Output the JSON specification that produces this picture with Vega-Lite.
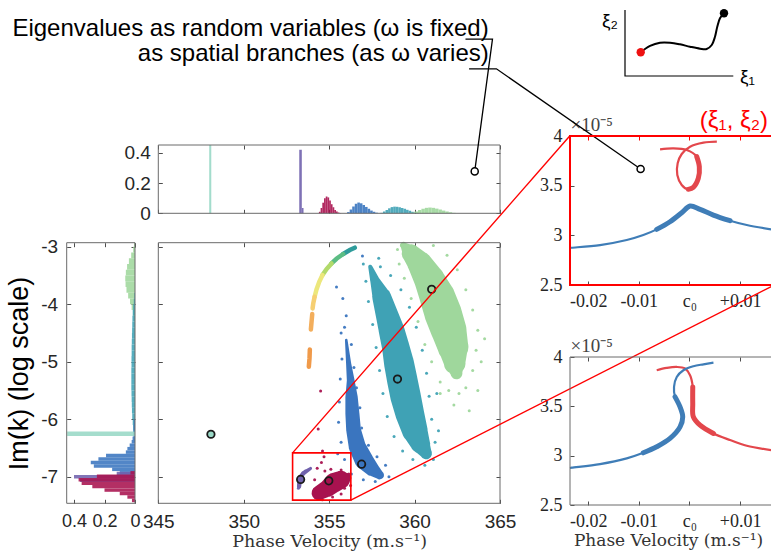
{
"$schema": "https://vega.github.io/schema/vega-lite/v6.json",
"background": "white",
"width": 771,
"height": 554,
"autosize": {"type": "none"},
"padding": 0,
"config": {
  "view": {"stroke": null},
  "font": "Liberation Sans",
  "axis": {"domain": false, "grid": false, "ticks": true, "tickSize": -4, "labelPadding": 8, "labelFlush": false, "labelOverlap": false, "tickColor": "#4d4d4d", "labelColor": "#262626", "labelFont": "Liberation Sans", "labelFontSize": 19, "titleFont": "Liberation Sans", "titleFontWeight": "normal", "titleColor": "#000000"}
},
"resolve": {"scale": {"x": "independent", "y": "independent"}, "axis": {"x": "independent", "y": "independent"}},
"datasets": {
  "tophist": [
    {"c":"m","x":347.98,"x2":348.1,"y":0.4515},
    {"c":"p","x":353.25,"x2":353.4,"y":0.42},
    {"c":"p","x":353.4,"x2":353.5,"y":0.035},
    {"c":"r","x":354.4,"x2":354.5,"y":0.01},
    {"c":"r","x":354.5,"x2":354.6,"y":0.035},
    {"c":"r","x":354.6,"x2":354.7,"y":0.07},
    {"c":"r","x":354.7,"x2":354.8,"y":0.1},
    {"c":"r","x":354.8,"x2":354.9,"y":0.111},
    {"c":"r","x":354.9,"x2":355.0,"y":0.105},
    {"c":"r","x":355.0,"x2":355.1,"y":0.085},
    {"c":"r","x":355.1,"x2":355.2,"y":0.06},
    {"c":"r","x":355.2,"x2":355.3,"y":0.04},
    {"c":"r","x":355.3,"x2":355.4,"y":0.022},
    {"c":"r","x":355.4,"x2":355.5,"y":0.012},
    {"c":"r","x":355.5,"x2":355.6,"y":0.005},
    {"c":"r","x":355.6,"x2":355.7,"y":0.002},
    {"c":"b","x":356.05,"x2":356.2,"y":0.008},
    {"c":"b","x":356.2,"x2":356.35,"y":0.025},
    {"c":"b","x":356.35,"x2":356.5,"y":0.045},
    {"c":"b","x":356.5,"x2":356.65,"y":0.063},
    {"c":"b","x":356.65,"x2":356.8,"y":0.071},
    {"c":"b","x":356.8,"x2":356.95,"y":0.066},
    {"c":"b","x":356.95,"x2":357.1,"y":0.055},
    {"c":"b","x":357.1,"x2":357.25,"y":0.042},
    {"c":"b","x":357.25,"x2":357.4,"y":0.03},
    {"c":"b","x":357.4,"x2":357.55,"y":0.018},
    {"c":"b","x":357.55,"x2":357.7,"y":0.01},
    {"c":"b","x":357.7,"x2":357.85,"y":0.004},
    {"c":"t","x":358.0,"x2":358.15,"y":0.003},
    {"c":"t","x":358.15,"x2":358.3,"y":0.012},
    {"c":"t","x":358.3,"x2":358.45,"y":0.022},
    {"c":"t","x":358.45,"x2":358.6,"y":0.033},
    {"c":"t","x":358.6,"x2":358.75,"y":0.041},
    {"c":"t","x":358.75,"x2":358.9,"y":0.044},
    {"c":"t","x":358.9,"x2":359.05,"y":0.043},
    {"c":"t","x":359.05,"x2":359.2,"y":0.04},
    {"c":"t","x":359.2,"x2":359.35,"y":0.035},
    {"c":"t","x":359.35,"x2":359.5,"y":0.03},
    {"c":"t","x":359.5,"x2":359.65,"y":0.023},
    {"c":"t","x":359.65,"x2":359.8,"y":0.017},
    {"c":"t","x":359.8,"x2":359.95,"y":0.01},
    {"c":"t","x":359.95,"x2":360.1,"y":0.005},
    {"c":"t","x":360.1,"x2":360.25,"y":0.002},
    {"c":"g","x":359.8,"x2":360.0,"y":0.004},
    {"c":"g","x":360.0,"x2":360.2,"y":0.012},
    {"c":"g","x":360.2,"x2":360.4,"y":0.022},
    {"c":"g","x":360.4,"x2":360.6,"y":0.03},
    {"c":"g","x":360.6,"x2":360.8,"y":0.036},
    {"c":"g","x":360.8,"x2":361.0,"y":0.038},
    {"c":"g","x":361.0,"x2":361.2,"y":0.036},
    {"c":"g","x":361.2,"x2":361.4,"y":0.031},
    {"c":"g","x":361.4,"x2":361.6,"y":0.025},
    {"c":"g","x":361.6,"x2":361.8,"y":0.018},
    {"c":"g","x":361.8,"x2":362.0,"y":0.012},
    {"c":"g","x":362.0,"x2":362.2,"y":0.007},
    {"c":"g","x":362.2,"x2":362.4,"y":0.003}
  ],
  "lefthist": [
    {"c":"g","y":-3.0,"y2":-2.93,"x":0.006},
    {"c":"g","y":-3.1,"y2":-3.0,"x":0.012},
    {"c":"g","y":-3.2,"y2":-3.1,"x":0.025},
    {"c":"g","y":-3.3,"y2":-3.2,"x":0.04},
    {"c":"g","y":-3.4,"y2":-3.3,"x":0.052},
    {"c":"g","y":-3.5,"y2":-3.4,"x":0.06},
    {"c":"g","y":-3.6,"y2":-3.5,"x":0.064},
    {"c":"g","y":-3.7,"y2":-3.6,"x":0.062},
    {"c":"g","y":-3.8,"y2":-3.7,"x":0.056},
    {"c":"g","y":-3.9,"y2":-3.8,"x":0.045},
    {"c":"g","y":-4.0,"y2":-3.9,"x":0.033},
    {"c":"g","y":-4.1,"y2":-4.0,"x":0.022},
    {"c":"g","y":-4.2,"y2":-4.1,"x":0.012},
    {"c":"g","y":-4.3,"y2":-4.2,"x":0.005},
    {"c":"t","y":-3.9,"y2":-3.8,"x":0.004},
    {"c":"t","y":-4.0,"y2":-3.9,"x":0.008},
    {"c":"t","y":-4.1,"y2":-4.0,"x":0.012},
    {"c":"t","y":-4.2,"y2":-4.1,"x":0.015},
    {"c":"t","y":-4.3,"y2":-4.2,"x":0.017},
    {"c":"t","y":-4.4,"y2":-4.3,"x":0.018},
    {"c":"t","y":-4.5,"y2":-4.4,"x":0.019},
    {"c":"t","y":-4.6,"y2":-4.5,"x":0.02},
    {"c":"t","y":-4.7,"y2":-4.6,"x":0.021},
    {"c":"t","y":-4.8,"y2":-4.7,"x":0.022},
    {"c":"t","y":-4.9,"y2":-4.8,"x":0.022},
    {"c":"t","y":-5.0,"y2":-4.9,"x":0.023},
    {"c":"t","y":-5.1,"y2":-5.0,"x":0.023},
    {"c":"t","y":-5.2,"y2":-5.1,"x":0.024},
    {"c":"t","y":-5.3,"y2":-5.2,"x":0.024},
    {"c":"t","y":-5.4,"y2":-5.3,"x":0.024},
    {"c":"t","y":-5.5,"y2":-5.4,"x":0.024},
    {"c":"t","y":-5.6,"y2":-5.5,"x":0.023},
    {"c":"t","y":-5.7,"y2":-5.6,"x":0.022},
    {"c":"t","y":-5.8,"y2":-5.7,"x":0.021},
    {"c":"t","y":-5.9,"y2":-5.8,"x":0.02},
    {"c":"t","y":-6.0,"y2":-5.9,"x":0.018},
    {"c":"t","y":-6.1,"y2":-6.0,"x":0.015},
    {"c":"t","y":-6.2,"y2":-6.1,"x":0.012},
    {"c":"t","y":-6.3,"y2":-6.2,"x":0.008},
    {"c":"t","y":-6.4,"y2":-6.3,"x":0.004},
    {"c":"b","y":-6.1,"y2":-6.0,"x":0.008},
    {"c":"b","y":-6.2,"y2":-6.1,"x":0.01},
    {"c":"b","y":-6.3,"y2":-6.2,"x":0.012},
    {"c":"b","y":-6.36,"y2":-6.3,"x":0.016},
    {"c":"b","y":-6.42,"y2":-6.36,"x":0.022},
    {"c":"b","y":-6.48,"y2":-6.42,"x":0.035},
    {"c":"b","y":-6.54,"y2":-6.48,"x":0.05},
    {"c":"b","y":-6.6,"y2":-6.54,"x":0.06},
    {"c":"b","y":-6.66,"y2":-6.6,"x":0.19},
    {"c":"b","y":-6.72,"y2":-6.66,"x":0.24},
    {"c":"b","y":-6.78,"y2":-6.72,"x":0.29},
    {"c":"b","y":-6.84,"y2":-6.78,"x":0.27},
    {"c":"b","y":-6.9,"y2":-6.84,"x":0.15},
    {"c":"b","y":-6.96,"y2":-6.9,"x":0.1},
    {"c":"m","y":-6.29,"y2":-6.21,"x":0.445},
    {"c":"p","y":-6.97,"y2":-6.91,"x":0.12},
    {"c":"p","y":-7.03,"y2":-6.97,"x":0.4},
    {"c":"p","y":-7.09,"y2":-7.03,"x":0.36},
    {"c":"r","y":-6.96,"y2":-6.9,"x":0.03},
    {"c":"r","y":-7.02,"y2":-6.96,"x":0.25},
    {"c":"r","y":-7.08,"y2":-7.02,"x":0.37},
    {"c":"r","y":-7.14,"y2":-7.08,"x":0.35},
    {"c":"r","y":-7.2,"y2":-7.14,"x":0.28},
    {"c":"r","y":-7.26,"y2":-7.2,"x":0.2},
    {"c":"r","y":-7.32,"y2":-7.26,"x":0.1},
    {"c":"r","y":-7.38,"y2":-7.32,"x":0.05},
    {"c":"r","y":-7.44,"y2":-7.38,"x":0.02}
  ],
  "cores": [
    {"c":"g","i":1,"x":359.35,"y":-2.975,"w":0.4},
    {"c":"g","i":2,"x":359.8,"y":-3.12,"w":1.1},
    {"c":"g","i":3,"x":360.3,"y":-3.29,"w":1.45},
    {"c":"g","i":4,"x":360.88,"y":-3.58,"w":1.8},
    {"c":"g","i":5,"x":361.33,"y":-3.87,"w":2.08},
    {"c":"g","i":6,"x":361.67,"y":-4.16,"w":2.18},
    {"c":"g","i":7,"x":362.0,"y":-4.45,"w":2.08},
    {"c":"g","i":8,"x":362.25,"y":-4.74,"w":1.8},
    {"c":"g","i":9,"x":362.35,"y":-5.03,"w":1.26},
    {"c":"g","i":10,"x":362.45,"y":-5.2,"w":0.7},
    {"c":"t","i":1,"x":357.41,"y":-3.35,"w":0.25},
    {"c":"t","i":2,"x":357.67,"y":-3.58,"w":0.55},
    {"c":"t","i":3,"x":358.07,"y":-3.87,"w":1.1},
    {"c":"t","i":4,"x":358.36,"y":-4.16,"w":1.3},
    {"c":"t","i":5,"x":358.65,"y":-4.45,"w":1.5},
    {"c":"t","i":6,"x":358.89,"y":-4.74,"w":1.6},
    {"c":"t","i":7,"x":359.09,"y":-5.03,"w":1.75},
    {"c":"t","i":8,"x":359.28,"y":-5.32,"w":1.78},
    {"c":"t","i":9,"x":359.48,"y":-5.61,"w":1.78},
    {"c":"t","i":10,"x":359.72,"y":-5.9,"w":1.68},
    {"c":"t","i":11,"x":360.01,"y":-6.19,"w":1.5},
    {"c":"t","i":12,"x":360.33,"y":-6.42,"w":1.16},
    {"c":"t","i":13,"x":360.67,"y":-6.59,"w":0.7},
    {"c":"b","i":1,"x":356.0,"y":-4.62,"w":0.15},
    {"c":"b","i":2,"x":356.14,"y":-5.03,"w":0.3},
    {"c":"b","i":3,"x":356.26,"y":-5.32,"w":0.45},
    {"c":"b","i":4,"x":356.31,"y":-5.61,"w":0.72},
    {"c":"b","i":5,"x":356.36,"y":-5.9,"w":0.82},
    {"c":"b","i":6,"x":356.43,"y":-6.19,"w":0.86},
    {"c":"b","i":7,"x":356.65,"y":-6.48,"w":1.0},
    {"c":"b","i":8,"x":357.04,"y":-6.71,"w":1.1},
    {"c":"b","i":9,"x":357.5,"y":-6.86,"w":0.85},
    {"c":"b","i":10,"x":357.96,"y":-6.97,"w":0.5},
    {"c":"r","i":1,"x":354.4,"y":-7.28,"w":0.85},
    {"c":"r","i":2,"x":354.9,"y":-7.2,"w":1.0},
    {"c":"r","i":3,"x":355.3,"y":-7.1,"w":1.15},
    {"c":"r","i":4,"x":355.7,"y":-7.05,"w":1.05},
    {"c":"r","i":5,"x":356.0,"y":-7.02,"w":0.6},
    {"c":"p","i":1,"x":353.24,"y":-7.17,"w":0.25},
    {"c":"p","i":2,"x":353.28,"y":-7.03,"w":0.28},
    {"c":"p","i":3,"x":353.48,"y":-6.94,"w":0.25},
    {"c":"p","i":4,"x":353.91,"y":-6.854,"w":0.18}
  ],
  "arc": [
    {"c":"a1","i":1,"x":356.5,"y":-3.017},{"c":"a1","i":2,"x":356.21,"y":-3.058},{"c":"a1","i":3,"x":355.82,"y":-3.127},
    {"c":"a2","i":1,"x":355.82,"y":-3.127},{"c":"a2","i":2,"x":355.43,"y":-3.209},{"c":"a2","i":3,"x":355.14,"y":-3.29},
    {"c":"a3","i":1,"x":355.14,"y":-3.29},{"c":"a3","i":2,"x":354.85,"y":-3.388},{"c":"a3","i":3,"x":354.61,"y":-3.493},
    {"c":"a4","i":1,"x":354.61,"y":-3.493},{"c":"a4","i":2,"x":354.42,"y":-3.609},{"c":"a4","i":3,"x":354.26,"y":-3.742},{"c":"a4","i":4,"x":354.15,"y":-3.869},
    {"c":"a5","i":1,"x":354.15,"y":-3.869},{"c":"a5","i":2,"x":354.07,"y":-3.985},{"c":"a5","i":3,"x":354.03,"y":-4.072},
    {"c":"a6","i":1,"x":354.01,"y":-4.171},{"c":"a6","i":2,"x":353.97,"y":-4.304},{"c":"a6","i":3,"x":353.93,"y":-4.438},
    {"c":"a7","i":1,"x":353.87,"y":-4.785},{"c":"a7","i":2,"x":353.85,"y":-4.942},{"c":"a7","i":3,"x":353.81,"y":-5.087}
  ],
  "dots": [
    {"c":"g","x":359.0,"y":-3.05},{"c":"g","x":359.1,"y":-3.3},{"c":"g","x":359.4,"y":-3.55},{"c":"g","x":359.8,"y":-3.9},{"c":"g","x":360.2,"y":-4.3},{"c":"g","x":360.6,"y":-4.7},{"c":"g","x":361.0,"y":-5.0},{"c":"g","x":361.5,"y":-5.35},{"c":"g","x":362.0,"y":-5.5},{"c":"g","x":362.6,"y":-5.55},{"c":"g","x":363.0,"y":-5.45},{"c":"g","x":363.4,"y":-5.15},{"c":"g","x":363.6,"y":-4.8},{"c":"g","x":363.7,"y":-4.45},{"c":"g","x":363.4,"y":-4.1},{"c":"g","x":363.0,"y":-3.75},{"c":"g","x":362.5,"y":-3.4},{"c":"g","x":361.9,"y":-3.15},{"c":"g","x":361.1,"y":-2.98},{"c":"g","x":363.9,"y":-5.0},{"c":"g","x":363.2,"y":-5.85},{"c":"g","x":364.1,"y":-4.6},{"c":"g","x":362.3,"y":-5.75},{"c":"g","x":363.7,"y":-5.5},{"c":"g","x":360.1,"y":-3.05},{"c":"g","x":361.5,"y":-5.55},
    {"c":"t","x":357.0,"y":-3.3},{"c":"t","x":357.15,"y":-3.6},{"c":"t","x":357.3,"y":-3.95},{"c":"t","x":357.55,"y":-4.35},{"c":"t","x":357.75,"y":-4.75},{"c":"t","x":357.95,"y":-5.15},{"c":"t","x":358.15,"y":-5.55},{"c":"t","x":358.4,"y":-5.95},{"c":"t","x":358.8,"y":-6.3},{"c":"t","x":359.3,"y":-6.55},{"c":"t","x":359.9,"y":-6.7},{"c":"t","x":360.6,"y":-6.8},{"c":"t","x":361.1,"y":-6.7},{"c":"t","x":361.2,"y":-6.4},{"c":"t","x":361.0,"y":-6.0},{"c":"t","x":360.85,"y":-5.6},{"c":"t","x":360.7,"y":-5.2},{"c":"t","x":360.45,"y":-4.8},{"c":"t","x":360.1,"y":-4.4},{"c":"t","x":359.7,"y":-4.05},{"c":"t","x":359.2,"y":-3.75},{"c":"t","x":358.6,"y":-3.5},{"c":"t","x":358.0,"y":-3.35},{"c":"t","x":361.4,"y":-6.2},{"c":"t","x":361.3,"y":-5.55},{"c":"t","x":357.9,"y":-3.2},
    {"c":"b","x":355.43,"y":-3.7},{"c":"b","x":356.95,"y":-3.16},{"c":"b","x":355.7,"y":-4.5},{"c":"b","x":355.9,"y":-4.4},{"c":"b","x":356.3,"y":-4.7},{"c":"b","x":355.75,"y":-4.95},{"c":"b","x":356.45,"y":-5.1},{"c":"b","x":355.65,"y":-5.3},{"c":"b","x":356.6,"y":-5.45},{"c":"b","x":355.6,"y":-5.7},{"c":"b","x":356.8,"y":-5.8},{"c":"b","x":355.55,"y":-6.05},{"c":"b","x":356.9,"y":-6.15},{"c":"b","x":355.7,"y":-6.4},{"c":"b","x":357.3,"y":-6.45},{"c":"b","x":355.9,"y":-6.7},{"c":"b","x":357.8,"y":-6.65},{"c":"b","x":356.3,"y":-6.95},{"c":"b","x":357.0,"y":-7.05},{"c":"b","x":358.3,"y":-6.8},{"c":"b","x":358.5,"y":-7.0},{"c":"b","x":357.7,"y":-7.08},{"c":"b","x":355.5,"y":-6.6},{"c":"b","x":356.0,"y":-4.2},{"c":"b","x":355.8,"y":-3.9},
    {"c":"r","x":354.5,"y":-5.51},{"c":"r","x":354.36,"y":-6.17},{"c":"r","x":354.61,"y":-6.55},{"c":"r","x":354.7,"y":-6.65},{"c":"r","x":354.55,"y":-6.75},{"c":"r","x":354.3,"y":-6.85},{"c":"r","x":354.75,"y":-6.9},{"c":"r","x":355.1,"y":-6.87},{"c":"r","x":355.7,"y":-6.88},{"c":"r","x":356.15,"y":-6.95},{"c":"r","x":356.25,"y":-7.15},{"c":"r","x":355.7,"y":-7.3},{"c":"r","x":355.2,"y":-7.35},{"c":"r","x":354.6,"y":-7.4},{"c":"r","x":354.2,"y":-7.25},{"c":"r","x":354.15,"y":-7.05},{"c":"r","x":355.9,"y":-7.2},
    {"c":"p","x":353.6,"y":-6.9},{"c":"p","x":353.2,"y":-7.2}
  ],
  "markers": [
    {"c":"g","x":361.0,"y":-3.74},{"c":"t","x":359.0,"y":-5.3},{"c":"b","x":356.9,"y":-6.78},{"c":"r","x":354.98,"y":-7.07},{"c":"p","x":353.33,"y":-7.045},{"c":"m","x":348.08,"y":-6.26}
  ],
  "zoomlines": [
    {"ln":1,"i":1,"x":352.86,"y":-6.583},{"ln":1,"i":2,"x":369.08,"y":-1.075},
    {"ln":2,"i":1,"x":356.27,"y":-7.405},{"ln":2,"i":2,"x":381.06,"y":-3.666}
  ],
  "leaders": [
    {"ln":1,"i":1,"x":362.98,"y":1.151},{"ln":1,"i":2,"x":364.56,"y":1.151},{"ln":1,"i":3,"x":363.52,"y":0.277},
    {"ln":2,"i":1,"x":363.19,"y":0.955},{"ln":2,"i":2,"x":364.79,"y":0.955},{"ln":2,"i":3,"x":373.23,"y":0.293}
  ],
  "rtThin": [
    {"c":"L","i":0,"x":-0.0236,"y":2.873},{"c":"L","i":1,"x":-0.02327,"y":2.875},{"c":"L","i":2,"x":-0.01767,"y":2.902},{"c":"L","i":3,"x":-0.01239,"y":2.953},{"c":"L","i":4,"x":-0.00911,"y":3.003},{"c":"L","i":5,"x":-0.00647,"y":3.06},{"c":"L","i":6,"x":-0.00384,"y":3.137},{"c":"L","i":7,"x":-0.00153,"y":3.228},{"c":"L","i":8,"x":0.00012,"y":3.295},{"c":"L","i":9,"x":0.00209,"y":3.262},{"c":"L","i":10,"x":0.00472,"y":3.204},{"c":"L","i":11,"x":0.00802,"y":3.147},{"c":"L","i":12,"x":0.01132,"y":3.104},{"c":"L","i":13,"x":0.01612,"y":3.06},
    {"c":"R","i":1,"x":-0.00581,"y":3.866},{"c":"R","i":2,"x":-0.00318,"y":3.876},{"c":"R","i":3,"x":-0.00054,"y":3.859},{"c":"R","i":4,"x":0.00144,"y":3.792},{"c":"R","i":5,"x":0.00195,"y":3.691},{"c":"R","i":6,"x":0.00175,"y":3.574},{"c":"R","i":7,"x":0.00076,"y":3.483},{"c":"R","i":8,"x":-0.00023,"y":3.463},{"c":"R","i":9,"x":-0.00153,"y":3.507},{"c":"R","i":10,"x":-0.0024,"y":3.607},{"c":"R","i":11,"x":-0.00233,"y":3.725},{"c":"R","i":12,"x":-0.00153,"y":3.819},{"c":"R","i":13,"x":0.00012,"y":3.892},{"c":"R","i":14,"x":0.00277,"y":3.933},{"c":"R","i":15,"x":0.00541,"y":3.943}
  ],
  "rtThick": [
    {"c":"L","i":5,"x":-0.00647,"y":3.06},{"c":"L","i":6,"x":-0.00384,"y":3.137},{"c":"L","i":7,"x":-0.00153,"y":3.228},{"c":"L","i":8,"x":0.00012,"y":3.295},{"c":"L","i":9,"x":0.00209,"y":3.262},{"c":"L","i":10,"x":0.00472,"y":3.204},{"c":"L","i":11,"x":0.00802,"y":3.147},
    {"c":"R","i":4,"x":0.00144,"y":3.792},{"c":"R","i":5,"x":0.00195,"y":3.691},{"c":"R","i":6,"x":0.00175,"y":3.574},{"c":"R","i":7,"x":0.00076,"y":3.483},{"c":"R","i":8,"x":-0.00023,"y":3.463}
  ],
  "rbThin": [
    {"c":"R","i":1,"x":-0.00647,"y":3.866},{"c":"R","i":2,"x":-0.00449,"y":3.889},{"c":"R","i":3,"x":-0.00251,"y":3.899},{"c":"R","i":4,"x":-0.00087,"y":3.883},{"c":"R","i":5,"x":0.00012,"y":3.815},{"c":"R","i":6,"x":0.00065,"y":3.697},{"c":"R","i":7,"x":0.00065,"y":3.529},{"c":"R","i":8,"x":0.00077,"y":3.393},{"c":"R","i":9,"x":0.00209,"y":3.309},{"c":"R","i":10,"x":0.00474,"y":3.225},{"c":"R","i":11,"x":0.00802,"y":3.158},{"c":"R","i":12,"x":0.01132,"y":3.1},{"c":"R","i":13,"x":0.01612,"y":3.057},
    {"c":"L","i":0,"x":-0.0236,"y":2.875},{"c":"L","i":1,"x":-0.02327,"y":2.878},{"c":"L","i":2,"x":-0.01767,"y":2.915},{"c":"L","i":3,"x":-0.01239,"y":2.973},{"c":"L","i":4,"x":-0.00911,"y":3.029},{"c":"L","i":5,"x":-0.00647,"y":3.09},{"c":"L","i":6,"x":-0.00384,"y":3.175},{"c":"L","i":7,"x":-0.00186,"y":3.292},{"c":"L","i":8,"x":-0.00133,"y":3.393},{"c":"L","i":9,"x":-0.00186,"y":3.494},{"c":"L","i":10,"x":-0.00285,"y":3.596},{"c":"L","i":11,"x":-0.00305,"y":3.697},{"c":"L","i":12,"x":-0.00251,"y":3.798},{"c":"L","i":13,"x":-0.0012,"y":3.866},{"c":"L","i":14,"x":0.00077,"y":3.906},{"c":"L","i":15,"x":0.00277,"y":3.926},{"c":"L","i":16,"x":0.00474,"y":3.943}
  ],
  "rbThick": [
    {"c":"R","i":6,"x":0.00065,"y":3.697},{"c":"R","i":7,"x":0.00065,"y":3.529},{"c":"R","i":8,"x":0.00077,"y":3.393},{"c":"R","i":9,"x":0.00209,"y":3.309},{"c":"R","i":10,"x":0.00474,"y":3.225},
    {"c":"L","i":4,"x":-0.00911,"y":3.029},{"c":"L","i":5,"x":-0.00647,"y":3.09},{"c":"L","i":6,"x":-0.00384,"y":3.175},{"c":"L","i":7,"x":-0.00186,"y":3.292},{"c":"L","i":8,"x":-0.00133,"y":3.393},{"c":"L","i":9,"x":-0.00186,"y":3.494},{"c":"L","i":10,"x":-0.00285,"y":3.596}
  ],
  "insetAxis": [{"i":1,"x":0,"y":1},{"i":2,"x":0,"y":0},{"i":3,"x":1,"y":0}],
  "insetCurve": [
    {"i":1,"x":0.145,"y":0.359},{"i":2,"x":0.231,"y":0.455},{"i":3,"x":0.323,"y":0.505},{"i":4,"x":0.416,"y":0.505},{"i":5,"x":0.508,"y":0.48},{"i":6,"x":0.6,"y":0.444},{"i":7,"x":0.693,"y":0.414},{"i":8,"x":0.754,"y":0.409},{"i":9,"x":0.801,"y":0.47},{"i":10,"x":0.831,"y":0.595},{"i":11,"x":0.852,"y":0.747},{"i":12,"x":0.877,"y":0.874},{"i":13,"x":0.914,"y":0.95}
  ]
},
"layer": [
  {
    "encoding": {
      "x": {"field": "x", "type": "quantitative", "scale": {"domain": [0, 1], "range": [625, 733.3], "nice": false, "zero": false}, "axis": null},
      "y": {"field": "y", "type": "quantitative", "scale": {"domain": [0, 1], "range": [76, 10], "nice": false, "zero": false}, "axis": null}
    },
    "layer": [
      {"data": {"name": "insetAxis"}, "mark": {"type": "line", "color": "#000000", "strokeWidth": 1.2}, "encoding": {"order": {"field": "i", "type": "quantitative"}}},
      {"data": {"name": "insetCurve"}, "mark": {"type": "line", "color": "#000000", "strokeWidth": 2, "interpolate": "catmull-rom"}, "encoding": {"order": {"field": "i", "type": "quantitative"}}},
      {"data": {"values": [{"x": 0.145, "y": 0.359}]}, "mark": {"type": "point", "filled": true, "color": "#ee1111", "size": 70, "opacity": 1}, "encoding": {}},
      {"data": {"values": [{"x": 0.914, "y": 0.95}]}, "mark": {"type": "point", "filled": true, "color": "#000000", "size": 70, "opacity": 1}, "encoding": {}},
      {"data": {"values": [{"t": "ξ₂", "x": -0.139, "y": 0.826}, {"t": "ξ₁", "x": 1.131, "y": -0.008}]}, "mark": {"type": "text", "font": "Liberation Sans", "fontSize": 19, "color": "#000000"}, "encoding": {"text": {"field": "t"}}}
    ]
  },
  {
    "encoding": {
      "x": {"field": "x", "type": "quantitative", "scale": {"domain": [345, 365], "range": [158.3, 500], "nice": false, "zero": false}, "axis": {"orient": "bottom", "offset": -340.7, "values": [345, 350, 355, 360, 365], "labels": false, "title": null}},
      "y": {"field": "y", "type": "quantitative", "scale": {"domain": [0, 0.4515], "range": [213.3, 145], "nice": false, "zero": false}, "axis": {"orient": "left", "offset": -158.3, "values": [0, 0.2, 0.4], "labelExpr": "datum.value == 0 ? '0' : format(datum.value, '.1f')", "labelPadding": 12, "title": null}}
    },
    "layer": [
      {
        "data": {"name": "tophist"},
        "mark": {"type": "rect", "opacity": 0.9},
        "encoding": {
          "x2": {"field": "x2"},
          "y2": {"datum": 0},
          "color": {"field": "c", "type": "nominal", "scale": {"domain": ["g","t","b","r","p","m","a1","a2","a3","a4","a5","a6","a7","L","R"], "range": ["#9fd79c","#3fa2b5","#3a75bf","#a8124f","#7062ad","#99d8c6","#2f9c9b","#5cbd84","#b2da6b","#ece77c","#f6cf72","#f3ae5c","#f09a4a","#3f7db7","#e3474c"]}, "legend": null}
        }
      },
      {
        "data": {"values": [{"x": 345, "x2": 365, "y": 0, "y2": 0.4515}]},
        "mark": {"type": "rect", "filled": false, "stroke": "#6b6b6b", "strokeWidth": 1},
        "encoding": {"x2": {"field": "x2"}, "y2": {"field": "y2"}}
      },
      {
        "data": {"values": [{"t": "Eigenvalues as random variables (ω is fixed)", "x": 364.34, "y": 1.175}, {"t": "as spatial branches (as ω varies)", "x": 364.34, "y": 1.0087}]},
        "mark": {"type": "text", "align": "right", "baseline": "alphabetic", "font": "Liberation Sans", "fontSize": 24, "color": "#000000"},
        "encoding": {"text": {"field": "t"}}
      },
      {
        "data": {"name": "leaders"},
        "mark": {"type": "line", "color": "#000000", "strokeWidth": 1.3},
        "encoding": {"detail": {"field": "ln"}, "order": {"field": "i", "type": "quantitative"}}
      },
      {
        "data": {"values": [{"x": 363.52, "y": 0.277}, {"x": 373.23, "y": 0.293}]},
        "mark": {"type": "point", "filled": true, "fill": "#ffffff", "stroke": "#000000", "strokeWidth": 1.5, "size": 50, "opacity": 1},
        "encoding": {}
      }
    ]
  },
  {
    "encoding": {
      "x": {"field": "x", "type": "quantitative", "scale": {"domain": [0, 0.448], "range": [135, 66.7], "nice": false, "zero": false}, "axis": {"orient": "bottom", "offset": -50.7, "values": [0, 0.2, 0.4], "labelExpr": "datum.value == 0 ? '0' : format(datum.value, '.1f')", "labelPadding": 13, "labelFontSize": 18, "title": null}},
      "y": {"field": "y", "type": "quantitative", "scale": {"domain": [-7.46, -2.93], "range": [503.3, 242.7], "nice": false, "zero": false}, "axis": {"orient": "left", "offset": -66.7, "values": [-7, -6, -5, -4, -3], "labelExpr": "'-' + format(-datum.value, 'd')", "labelPadding": 13, "title": "Im(k)  (log scale)", "titleFontSize": 27, "titlePadding": 7}}
    },
    "layer": [
      {
        "data": {"name": "lefthist"},
        "mark": {"type": "rect", "opacity": 0.88},
        "encoding": {
          "x2": {"datum": 0},
          "y2": {"field": "y2"},
          "color": {"field": "c", "type": "nominal", "scale": {"domain": ["g","t","b","r","p","m","a1","a2","a3","a4","a5","a6","a7","L","R"], "range": ["#9fd79c","#3fa2b5","#3a75bf","#a8124f","#7062ad","#99d8c6","#2f9c9b","#5cbd84","#b2da6b","#ece77c","#f6cf72","#f3ae5c","#f09a4a","#3f7db7","#e3474c"]}, "legend": null}
        }
      },
      {
        "data": {"values": [{"x": 0, "x2": 0.448, "y": -7.46, "y2": -2.93}]},
        "mark": {"type": "rect", "filled": false, "stroke": "#6b6b6b", "strokeWidth": 1},
        "encoding": {"x2": {"field": "x2"}, "y2": {"field": "y2"}}
      }
    ]
  },
  {
    "encoding": {
      "x": {"field": "x", "type": "quantitative", "scale": {"domain": [345, 365], "range": [158.3, 500], "nice": false, "zero": false}, "axis": {"orient": "bottom", "offset": -50.7, "values": [345, 350, 355, 360, 365], "format": "d", "labelPadding": 13, "title": "Phase Velocity (m.s⁻¹)", "titleFont": "DejaVu Serif", "titleFontSize": 17.5, "titleColor": "#333333", "titlePadding": 1}},
      "y": {"field": "y", "type": "quantitative", "scale": {"domain": [-7.46, -2.93], "range": [503.3, 242.7], "nice": false, "zero": false}, "axis": {"orient": "left", "offset": -158.3, "values": [-7, -6, -5, -4, -3], "labels": false, "title": null}}
    },
    "layer": [
      {
        "data": {"name": "cores"},
        "mark": {"type": "trail"},
        "encoding": {
          "size": {"field": "w", "type": "quantitative", "scale": {"domain": [0, 2.5], "range": [0, 42.75]}, "legend": null},
          "color": {"field": "c", "type": "nominal", "scale": {"domain": ["g","t","b","r","p","m","a1","a2","a3","a4","a5","a6","a7","L","R"], "range": ["#9fd79c","#3fa2b5","#3a75bf","#a8124f","#7062ad","#99d8c6","#2f9c9b","#5cbd84","#b2da6b","#ece77c","#f6cf72","#f3ae5c","#f09a4a","#3f7db7","#e3474c"]}, "legend": null},
          "detail": {"field": "c"},
          "order": {"field": "i", "type": "quantitative"}
        }
      },
      {
        "data": {"name": "arc"},
        "mark": {"type": "line", "strokeWidth": 4.5, "strokeCap": "round"},
        "encoding": {
          "color": {"field": "c", "type": "nominal", "scale": {"domain": ["g","t","b","r","p","m","a1","a2","a3","a4","a5","a6","a7","L","R"], "range": ["#9fd79c","#3fa2b5","#3a75bf","#a8124f","#7062ad","#99d8c6","#2f9c9b","#5cbd84","#b2da6b","#ece77c","#f6cf72","#f3ae5c","#f09a4a","#3f7db7","#e3474c"]}, "legend": null},
          "detail": {"field": "c"},
          "order": {"field": "i", "type": "quantitative"}
        }
      },
      {
        "data": {"name": "dots"},
        "mark": {"type": "point", "filled": true, "size": 9, "opacity": 0.95},
        "encoding": {
          "color": {"field": "c", "type": "nominal", "scale": {"domain": ["g","t","b","r","p","m","a1","a2","a3","a4","a5","a6","a7","L","R"], "range": ["#9fd79c","#3fa2b5","#3a75bf","#a8124f","#7062ad","#99d8c6","#2f9c9b","#5cbd84","#b2da6b","#ece77c","#f6cf72","#f3ae5c","#f09a4a","#3f7db7","#e3474c"]}, "legend": null}
        }
      },
      {
        "data": {"name": "markers"},
        "mark": {"type": "point", "filled": true, "size": 55, "opacity": 1, "stroke": "#1a1a1a", "strokeWidth": 1.8},
        "encoding": {
          "color": {"field": "c", "type": "nominal", "scale": {"domain": ["g","t","b","r","p","m","a1","a2","a3","a4","a5","a6","a7","L","R"], "range": ["#9fd79c","#3fa2b5","#3a75bf","#a8124f","#7062ad","#99d8c6","#2f9c9b","#5cbd84","#b2da6b","#ece77c","#f6cf72","#f3ae5c","#f09a4a","#3f7db7","#e3474c"]}, "legend": null}
        }
      },
      {
        "data": {"values": [{"x": 345, "x2": 365, "y": -7.46, "y2": -2.93}]},
        "mark": {"type": "rect", "filled": false, "stroke": "#6b6b6b", "strokeWidth": 1},
        "encoding": {"x2": {"field": "x2"}, "y2": {"field": "y2"}}
      },
      {
        "data": {"values": [{"x": 352.86, "x2": 356.27, "y": -7.405, "y2": -6.583}]},
        "mark": {"type": "rect", "filled": false, "stroke": "#ff0000", "strokeWidth": 1.6},
        "encoding": {"x2": {"field": "x2"}, "y2": {"field": "y2"}}
      },
      {
        "data": {"name": "zoomlines"},
        "mark": {"type": "line", "color": "#ff0000", "strokeWidth": 1.4},
        "encoding": {"detail": {"field": "ln"}, "order": {"field": "i", "type": "quantitative"}}
      }
    ]
  },
  {
    "encoding": {
      "x": {"field": "x", "type": "quantitative", "scale": {"domain": [-0.0236, 0.0169], "range": [570, 775], "nice": false, "zero": false}, "axis": {"orient": "bottom", "offset": -269, "values": [-0.02, -0.01, 0, 0.01], "labelExpr": "datum.value == 0 ? 'c₀' : (datum.value > 0 ? '+' + format(datum.value, '.2f') : '-' + format(-datum.value, '.2f'))", "labelFont": "Liberation Serif", "labelFontSize": 18, "labelPadding": 11, "title": null}},
      "y": {"field": "y", "type": "quantitative", "scale": {"domain": [2.5, 4], "range": [285, 136], "nice": false, "zero": false}, "axis": {"orient": "left", "offset": -570, "values": [2.5, 3, 3.5, 4], "format": "~g", "labelFont": "Liberation Serif", "labelFontSize": 18, "labelPadding": 12, "title": "×10⁻⁵", "titleFont": "Liberation Serif", "titleFontSize": 19, "titleColor": "#444444", "titleAngle": 0, "titleAlign": "left", "titleBaseline": "bottom", "titleX": 0, "titleY": 134}}
    },
    "layer": [
      {
        "data": {"name": "rtThin"},
        "mark": {"type": "line", "strokeWidth": 2.2, "interpolate": "catmull-rom"},
        "encoding": {
          "color": {"field": "c", "type": "nominal", "scale": {"domain": ["g","t","b","r","p","m","a1","a2","a3","a4","a5","a6","a7","L","R"], "range": ["#9fd79c","#3fa2b5","#3a75bf","#a8124f","#7062ad","#99d8c6","#2f9c9b","#5cbd84","#b2da6b","#ece77c","#f6cf72","#f3ae5c","#f09a4a","#3f7db7","#e3474c"]}, "legend": null},
          "detail": {"field": "c"},
          "order": {"field": "i", "type": "quantitative"}
        }
      },
      {
        "data": {"name": "rtThick"},
        "mark": {"type": "line", "strokeWidth": 5, "strokeCap": "round", "interpolate": "catmull-rom"},
        "encoding": {
          "color": {"field": "c", "type": "nominal", "scale": {"domain": ["g","t","b","r","p","m","a1","a2","a3","a4","a5","a6","a7","L","R"], "range": ["#9fd79c","#3fa2b5","#3a75bf","#a8124f","#7062ad","#99d8c6","#2f9c9b","#5cbd84","#b2da6b","#ece77c","#f6cf72","#f3ae5c","#f09a4a","#3f7db7","#e3474c"]}, "legend": null},
          "detail": {"field": "c"},
          "order": {"field": "i", "type": "quantitative"}
        }
      },
      {
        "data": {"values": [{"x": -0.0236, "x2": 0.0169, "y": 2.5, "y2": 4}]},
        "mark": {"type": "rect", "filled": false, "stroke": "#ff0000", "strokeWidth": 2},
        "encoding": {"x2": {"field": "x2"}, "y2": {"field": "y2"}}
      },
      {
        "data": {"values": [{"t": "(ξ₁, ξ₂)", "x": 0.01553, "y": 4.08}]},
        "mark": {"type": "text", "align": "right", "baseline": "alphabetic", "font": "Liberation Sans", "fontSize": 24, "color": "#ff0000"},
        "encoding": {"text": {"field": "t"}}
      }
    ]
  },
  {
    "encoding": {
      "x": {"field": "x", "type": "quantitative", "scale": {"domain": [-0.0236, 0.0169], "range": [570, 775], "nice": false, "zero": false}, "axis": {"orient": "bottom", "offset": -49, "values": [-0.02, -0.01, 0, 0.01], "labelExpr": "datum.value == 0 ? 'c₀' : (datum.value > 0 ? '+' + format(datum.value, '.2f') : '-' + format(-datum.value, '.2f'))", "labelFont": "Liberation Serif", "labelFontSize": 18, "labelPadding": 11, "title": "Phase Velocity (m.s⁻¹)", "titleFont": "DejaVu Serif", "titleFontSize": 17, "titleColor": "#333333", "titlePadding": 2, "titleX": 668}},
      "y": {"field": "y", "type": "quantitative", "scale": {"domain": [2.5, 4], "range": [505, 357], "nice": false, "zero": false}, "axis": {"orient": "left", "offset": -570, "values": [2.5, 3, 3.5, 4], "format": "~g", "labelFont": "Liberation Serif", "labelFontSize": 18, "labelPadding": 12, "title": "×10⁻⁵", "titleFont": "Liberation Serif", "titleFontSize": 19, "titleColor": "#444444", "titleAngle": 0, "titleAlign": "left", "titleBaseline": "bottom", "titleX": 0, "titleY": 355}}
    },
    "layer": [
      {
        "data": {"name": "rbThin"},
        "mark": {"type": "line", "strokeWidth": 2.2, "interpolate": "catmull-rom"},
        "encoding": {
          "color": {"field": "c", "type": "nominal", "scale": {"domain": ["g","t","b","r","p","m","a1","a2","a3","a4","a5","a6","a7","L","R"], "range": ["#9fd79c","#3fa2b5","#3a75bf","#a8124f","#7062ad","#99d8c6","#2f9c9b","#5cbd84","#b2da6b","#ece77c","#f6cf72","#f3ae5c","#f09a4a","#3f7db7","#e3474c"]}, "legend": null},
          "detail": {"field": "c"},
          "order": {"field": "i", "type": "quantitative"}
        }
      },
      {
        "data": {"name": "rbThick"},
        "mark": {"type": "line", "strokeWidth": 5, "strokeCap": "round", "interpolate": "catmull-rom"},
        "encoding": {
          "color": {"field": "c", "type": "nominal", "scale": {"domain": ["g","t","b","r","p","m","a1","a2","a3","a4","a5","a6","a7","L","R"], "range": ["#9fd79c","#3fa2b5","#3a75bf","#a8124f","#7062ad","#99d8c6","#2f9c9b","#5cbd84","#b2da6b","#ece77c","#f6cf72","#f3ae5c","#f09a4a","#3f7db7","#e3474c"]}, "legend": null},
          "detail": {"field": "c"},
          "order": {"field": "i", "type": "quantitative"}
        }
      },
      {
        "data": {"values": [{"x": -0.0236, "x2": 0.0169, "y": 2.5, "y2": 4}]},
        "mark": {"type": "rect", "filled": false, "stroke": "#6b6b6b", "strokeWidth": 1},
        "encoding": {"x2": {"field": "x2"}, "y2": {"field": "y2"}}
      }
    ]
  },
  {
    "data": {"values": [{"x": 345, "x2": 365, "y": -7.46, "y2": -2.93}]},
    "mark": {"type": "rect", "opacity": 0},
    "encoding": {
      "x": {"field": "x", "type": "quantitative", "scale": {"domain": [345, 365], "range": [158.3, 500], "nice": false, "zero": false}, "axis": {"orient": "top", "offset": -242.7, "values": [345, 350, 355, 360, 365], "labels": false, "title": null}},
      "x2": {"field": "x2"},
      "y": {"field": "y", "type": "quantitative", "scale": {"domain": [-7.46, -2.93], "range": [503.3, 242.7], "nice": false, "zero": false}, "axis": {"orient": "right", "offset": -271, "values": [-7, -6, -5, -4, -3], "labels": false, "title": null}},
      "y2": {"field": "y2"}
    }
  },
  {
    "data": {"values": [{"x": 345, "x2": 365, "y": 0, "y2": 0.4515}]},
    "mark": {"type": "rect", "opacity": 0},
    "encoding": {
      "x": {"field": "x", "type": "quantitative", "scale": {"domain": [345, 365], "range": [158.3, 500], "nice": false, "zero": false}, "axis": {"orient": "top", "offset": -145, "values": [345, 350, 355, 360, 365], "labels": false, "title": null}},
      "x2": {"field": "x2"},
      "y": {"field": "y", "type": "quantitative", "scale": {"domain": [0, 0.4515], "range": [213.3, 145], "nice": false, "zero": false}, "axis": {"orient": "right", "offset": -271, "values": [0, 0.2, 0.4], "labels": false, "title": null}},
      "y2": {"field": "y2"}
    }
  },
  {
    "data": {"values": [{"x": 0, "x2": 0.448, "y": -7.46, "y2": -2.93}]},
    "mark": {"type": "rect", "opacity": 0},
    "encoding": {
      "x": {"field": "x", "type": "quantitative", "scale": {"domain": [0, 0.448], "range": [135, 66.7], "nice": false, "zero": false}, "axis": {"orient": "top", "offset": -242.7, "values": [0, 0.2, 0.4], "labels": false, "title": null}},
      "x2": {"field": "x2"},
      "y": {"field": "y", "type": "quantitative", "scale": {"domain": [-7.46, -2.93], "range": [503.3, 242.7], "nice": false, "zero": false}, "axis": {"orient": "right", "offset": -636, "values": [-7, -6, -5, -4, -3], "labels": false, "title": null}},
      "y2": {"field": "y2"}
    }
  },
  {
    "data": {"values": [{"x": -0.0236, "x2": 0.0169}]},
    "mark": {"type": "rect", "opacity": 0},
    "encoding": {
      "x": {"field": "x", "type": "quantitative", "scale": {"domain": [-0.0236, 0.0169], "range": [570, 775], "nice": false, "zero": false}, "axis": {"orient": "top", "offset": -136, "values": [-0.02, -0.01, 0, 0.01], "labels": false, "title": null, "tickColor": "#ff0000"}},
      "x2": {"field": "x2"}
    }
  },
  {
    "data": {"values": [{"x": -0.0236, "x2": 0.0169}]},
    "mark": {"type": "rect", "opacity": 0},
    "encoding": {
      "x": {"field": "x", "type": "quantitative", "scale": {"domain": [-0.0236, 0.0169], "range": [570, 775], "nice": false, "zero": false}, "axis": {"orient": "top", "offset": -357, "values": [-0.02, -0.01, 0, 0.01], "labels": false, "title": null}},
      "x2": {"field": "x2"}
    }
  }
]
}
